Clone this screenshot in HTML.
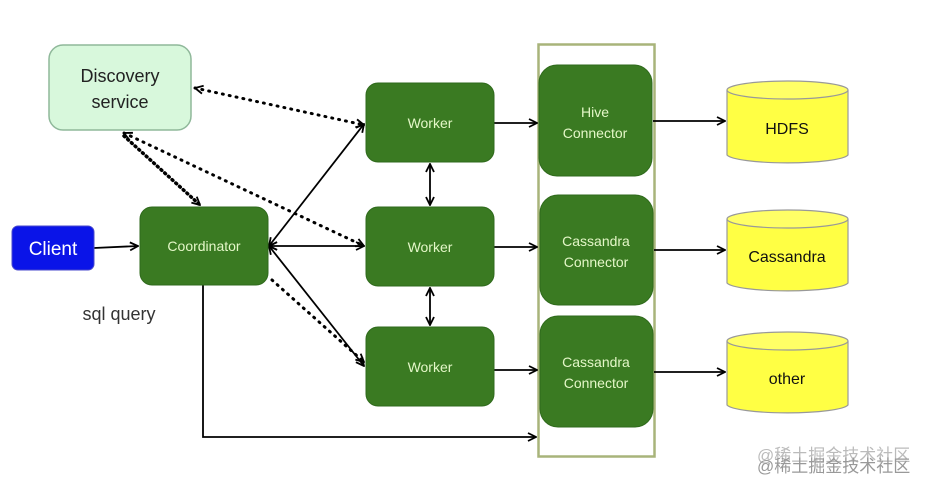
<!DOCTYPE html>
<html><head><style>
body{margin:0;background:#fff;}
svg text{font-family:"Liberation Sans","Noto Sans CJK SC",sans-serif;}
</style></head><body>
<svg width="935" height="491" viewBox="0 0 935 491" xmlns="http://www.w3.org/2000/svg">
<defs>
<marker id="a" markerWidth="10" markerHeight="10" refX="9" refY="5" orient="auto" markerUnits="userSpaceOnUse"><path d="M1,1 L9,5 L1,9" fill="none" stroke="#000" stroke-width="1.8"/></marker>
<marker id="s" markerWidth="10" markerHeight="10" refX="1" refY="5" orient="auto" markerUnits="userSpaceOnUse"><path d="M9,1 L1,5 L9,9" fill="none" stroke="#000" stroke-width="1.8"/></marker>
</defs>
<rect x="538.5" y="44.5" width="116" height="412" fill="none" stroke="#a8b47a" stroke-width="2.5"/>
<g fill="none" stroke="#000" stroke-width="3" stroke-dasharray="1,6" stroke-linecap="round">
<line x1="195" y1="88" x2="364" y2="125" marker-start="url(#s)" marker-end="url(#a)"/>
<line x1="124" y1="133" x2="364" y2="246" marker-start="url(#s)" marker-end="url(#a)"/>
<line x1="124" y1="136" x2="200" y2="205" marker-end="url(#a)" stroke-dasharray="1,4" stroke-width="3.5"/>
<line x1="272" y1="280" x2="364" y2="362" marker-end="url(#a)"/>
</g>
<g fill="none" stroke="#000" stroke-width="1.8">
<line x1="94" y1="248" x2="138" y2="246" marker-end="url(#a)"/>
<line x1="269" y1="246" x2="364" y2="124" marker-start="url(#s)" marker-end="url(#a)"/>
<line x1="269" y1="246" x2="364" y2="246" marker-start="url(#s)" marker-end="url(#a)"/>
<line x1="269" y1="246" x2="364" y2="366" marker-start="url(#s)" marker-end="url(#a)"/>
<line x1="430" y1="164" x2="430" y2="205" marker-start="url(#s)" marker-end="url(#a)"/>
<line x1="430" y1="288" x2="430" y2="325" marker-start="url(#s)" marker-end="url(#a)"/>
<line x1="494" y1="123" x2="537" y2="123" marker-end="url(#a)"/>
<line x1="494" y1="247" x2="537" y2="247" marker-end="url(#a)"/>
<line x1="494" y1="370" x2="537" y2="370" marker-end="url(#a)"/>
<line x1="653" y1="121" x2="725" y2="121" marker-end="url(#a)"/>
<line x1="654" y1="250" x2="725" y2="250" marker-end="url(#a)"/>
<line x1="654" y1="372" x2="725" y2="372" marker-end="url(#a)"/>
<polyline points="203,285 203,437 536,437" marker-end="url(#a)"/>
</g>
<rect x="49" y="45" width="142" height="85" rx="14" fill="#d8f8dc" stroke="#8fb89a" stroke-width="1.5"/>
<text x="120" y="82" font-size="18" text-anchor="middle" fill="#222">Discovery</text>
<text x="120" y="108" font-size="18" text-anchor="middle" fill="#222">service</text>
<rect x="12" y="226" width="82" height="44" rx="6" fill="#0a14e8" stroke="#4a4acc"/>
<text x="53" y="255" font-size="19" text-anchor="middle" fill="#fff">Client</text>
<text x="119" y="320" font-size="18" text-anchor="middle" fill="#333">sql query</text>
<g fill="#3a7a22" stroke="#2f6a1c">
<rect x="140" y="207" width="128" height="78" rx="12"/>
<rect x="366" y="83" width="128" height="79" rx="12"/>
<rect x="366" y="207" width="128" height="79" rx="12"/>
<rect x="366" y="327" width="128" height="79" rx="12"/>
<rect x="539" y="65" width="113" height="111" rx="18"/>
<rect x="540" y="195" width="113" height="110" rx="18"/>
<rect x="540" y="316" width="113" height="111" rx="18"/>
</g>
<g fill="#e4f7c8" font-size="14" text-anchor="middle">
<text x="204" y="251">Coordinator</text>
<text x="430" y="128">Worker</text>
<text x="430" y="252">Worker</text>
<text x="430" y="372">Worker</text>
<text x="595" y="117">Hive</text><text x="595" y="138">Connector</text>
<text x="596" y="246">Cassandra</text><text x="596" y="267">Connector</text>
<text x="596" y="367">Cassandra</text><text x="596" y="388">Connector</text>
</g>
<g fill="#ffff44" stroke="#999" stroke-width="1.2">
<path d="M727,90 L727,155 A61,9 0 0 0 848,155 L848,90"/><ellipse cx="787.5" cy="90" rx="60.5" ry="9" fill="#ffff66"/>
<path d="M727,219 L727,283 A61,9 0 0 0 848,283 L848,219"/><ellipse cx="787.5" cy="219" rx="60.5" ry="9" fill="#ffff66"/>
<path d="M727,341 L727,405 A61,9 0 0 0 848,405 L848,341"/><ellipse cx="787.5" cy="341" rx="60.5" ry="9" fill="#ffff66"/>
</g>
<g fill="#111" font-size="16" text-anchor="middle">
<text x="787" y="134">HDFS</text>
<text x="787" y="262">Cassandra</text>
<text x="787" y="384">other</text>
</g>
<text x="757" y="461" font-size="17" fill="#bbb">@稀土掘金技术社区</text>
<text x="757" y="472" font-size="17" fill="#999">@稀土掘金技术社区</text>
</svg>
</body></html>
